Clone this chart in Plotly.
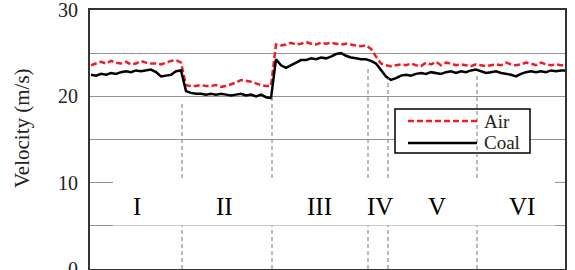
import plotly.graph_objects as go

# sample index (time steps)
x_vals = [k * 10 for k in range(96)]

air = [23.6, 23.8, 24.0, 23.8, 24.1, 23.9, 23.8, 24.0, 23.7, 23.8, 24.1, 23.9, 23.8, 23.8, 23.7, 23.9, 24.1, 24.2, 23.9,
       21.3, 21.2, 21.2, 21.3, 21.2, 21.2, 21.3, 21.1, 21.2, 21.4, 21.6, 21.9, 21.8, 21.7, 21.5, 21.3, 21.2, 21.2,
       26.0, 25.9, 26.0, 26.2, 26.0, 26.1, 26.3, 26.1, 26.0, 26.2, 26.1, 26.2, 26.1, 26.0, 26.1, 26.0, 25.9, 25.8, 25.9,
       25.5, 24.6, 23.8, 23.6,
       23.5, 23.6, 23.7, 23.6, 23.8, 23.6, 23.5, 23.9, 23.7, 24.0, 23.6, 23.9, 23.8, 23.6, 23.7, 23.6, 23.5, 23.7,
       23.6, 23.5, 23.6, 23.7, 23.6, 23.9, 23.7, 23.6, 23.7, 23.9, 23.8, 23.6, 23.9, 23.7, 23.6, 23.7, 23.6, 23.6]

coal = [22.5, 22.4, 22.6, 22.5, 22.7, 22.6, 22.8, 22.9, 22.8, 23.0, 22.9, 23.0, 23.1, 22.8, 22.3, 22.4, 22.5, 22.9, 23.0,
        20.6, 20.4, 20.3, 20.3, 20.2, 20.3, 20.2, 20.3, 20.2, 20.1, 20.2, 20.3, 20.1, 20.2, 20.0, 20.2, 19.9, 19.8,
        24.3, 23.6, 23.3, 23.6, 23.9, 24.2, 24.2, 24.4, 24.3, 24.5, 24.4, 24.6, 24.9, 25.0, 24.7, 24.5, 24.4, 24.3, 24.3,
        24.1, 23.8, 23.0, 22.3,
        21.9, 22.1, 22.4, 22.5, 22.4, 22.6, 22.7, 22.6, 22.8, 22.7, 22.6, 22.8, 22.9, 22.7, 22.9, 22.8, 23.0, 23.1,
        22.9, 22.7, 22.8, 22.9, 22.7, 22.6, 22.5, 22.3, 22.6, 22.8, 22.9, 22.8, 22.9, 22.8, 23.0, 22.9, 23.0, 23.0]

series_names = ["Air", "Coal"]
y_ticks = [0, 10, 20, 30]
stage_labels = ["I", "II", "III", "IV", "V", "VI"]
stage_label_x = [92, 266, 457, 578, 692, 862]
boundaries = [182, 362, 554, 594, 772]
boundary_tops = [19.2, 19.9, 23.3, 22.1, 22.5]

SERIF = "Liberation Serif"
W, H = 575, 270
ML, MR, MT, MB = 90, 10, 10, 1
PW, PH = W - ML - MR, H - MT - MB


def px(xp):
    return (xp - ML) / PW


def py(yp):
    return (H - MB - yp) / PH


AIR_LINE = dict(color="#ee1c25", width=2.5, dash="6px,3px")
COAL_LINE = dict(color="black", width=2.5)

fig = go.Figure()
fig.add_trace(go.Scatter(x=x_vals, y=air, mode="lines", name=series_names[0], line=AIR_LINE, showlegend=False))
fig.add_trace(go.Scatter(x=x_vals, y=coal, mode="lines", name=series_names[1], line=COAL_LINE, showlegend=False))

shapes = []
# legend box (drawn manually for compact layout)
shapes.append(dict(type="rect", xref="paper", yref="paper", x0=px(395), x1=px(530), y0=py(153), y1=py(109),
                   fillcolor="white", line=dict(color="black", width=1.5), layer="above"))
for bx, top in zip(boundaries, boundary_tops):
    shapes.append(dict(type="line", xref="x", yref="y", x0=bx, x1=bx, y0=0, y1=top,
                       line=dict(color="#777", width=1, dash="4px,3px"), layer="above"))
# white band behind stage labels
shapes.append(dict(type="rect", xref="paper", yref="y", x0=px(113), x1=px(555), y0=5.05, y1=10.35,
                   fillcolor="white", line=dict(width=0), layer="above"))
# legend samples
shapes.append(dict(type="line", xref="paper", yref="paper", x0=px(408), x1=px(477), y0=py(121), y1=py(121),
                   line=AIR_LINE, layer="above"))
shapes.append(dict(type="line", xref="paper", yref="paper", x0=px(408), x1=px(477), y0=py(143), y1=py(143),
                   line=COAL_LINE, layer="above"))
fig.update_layout(shapes=shapes)

for name, yp in zip(series_names, [121, 142]):
    fig.add_annotation(xref="paper", yref="paper", x=px(482), y=py(yp), text=name, showarrow=False,
                       xanchor="left", yanchor="middle", font=dict(family=SERIF, size=19, color="#222"))

for lab, lx in zip(stage_labels, stage_label_x):
    fig.add_annotation(x=lx, y=7.2, text=lab, showarrow=False,
                       font=dict(family=SERIF, size=25, color="black"))

# y-axis title
fig.add_annotation(xref="paper", yref="paper", x=px(22), y=py(128), text="Velocity (m/s)", showarrow=False,
                   textangle=-90, xanchor="center", yanchor="middle",
                   font=dict(family=SERIF, size=21, color="#222"))

fig.update_layout(
    width=W, height=H,
    margin=dict(l=ML, r=MR, t=MT, b=MB),
    paper_bgcolor="white", plot_bgcolor="white",
    font=dict(family=SERIF, color="#222"),
    xaxis=dict(range=[-2, 948], showticklabels=False, showgrid=False, zeroline=False,
               showline=True, linecolor="#333", linewidth=2, mirror=True, ticks="", automargin=False),
    yaxis=dict(range=[0, 30], tickvals=y_ticks, ticktext=[str(v) for v in y_ticks],
               showgrid=True, gridcolor="#949494", gridwidth=1.2,
               minor=dict(dtick=5, showgrid=True, gridcolor="#949494", gridwidth=1.2),
               zeroline=False, showline=True, linecolor="#333", linewidth=2, mirror=True,
               ticks="", ticklabelstandoff=6, automargin=False, ticklabeloverflow="allow",
               tickfont=dict(size=20, family=SERIF, color="#222")),
    showlegend=False,
)

fig.write_html("out.html", post_script="document.body.style.margin='0';",
               config={"displayModeBar": False})
